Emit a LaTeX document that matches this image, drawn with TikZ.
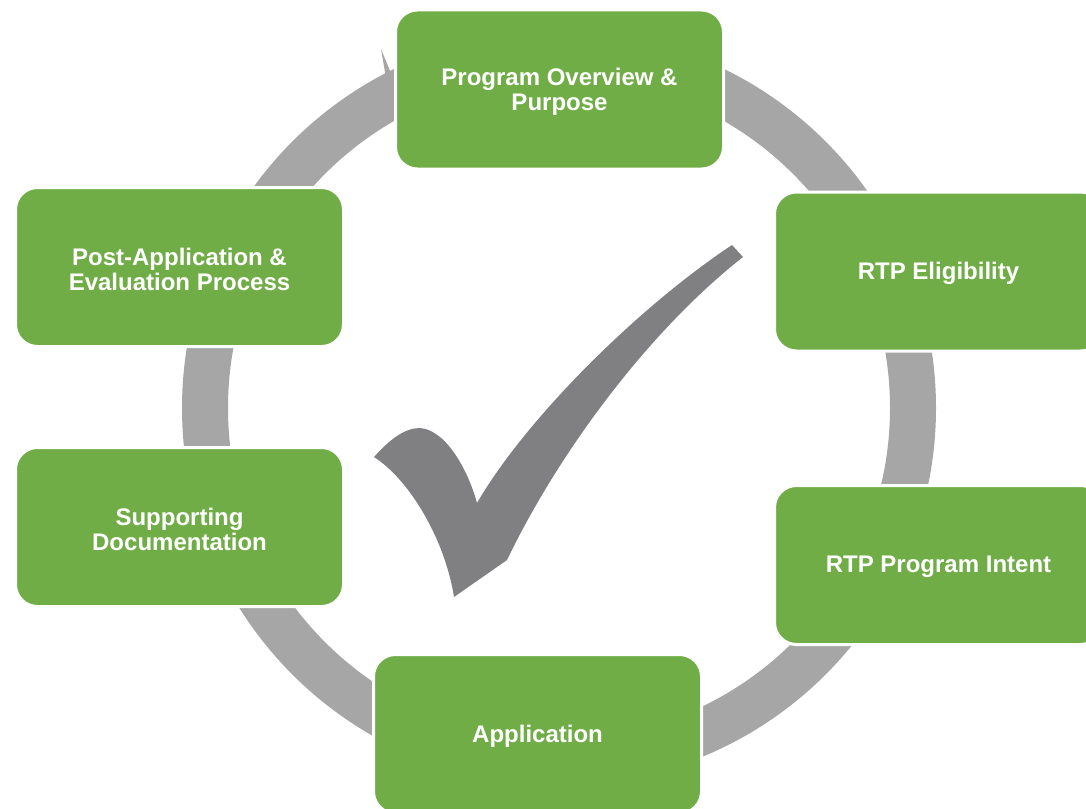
\documentclass[tikz,border=0pt]{standalone}
\usepackage{fontspec}
\setmainfont{Liberation Sans}
\definecolor{boxgreen}{HTML}{70AD47}
\definecolor{ringgray}{HTML}{A6A6A6}
\definecolor{checkgray}{HTML}{807F82}
\tikzset{
  stagebox/.style={rectangle, rounded corners=22pt, fill=boxgreen, draw=white,
    line width=3pt, minimum width=328pt, minimum height=159pt, inner sep=0pt},
  stagetext/.style={align=center, text=white, yshift=-2pt,
    font=\fontsize{24}{25}\selectfont\bfseries},
  ringstyle/.style={draw=ringgray, line width=46pt},
  checkstyle/.style={fill=checkgray, draw=none}
}
\begin{document}
\begin{tikzpicture}[x=1pt,y=-1pt]
\useasboundingbox (0,0) rectangle (1086,808);
\clip (0,0) rectangle (1086,808);
\coordinate (c) at (559,408);
% ring
\draw[ringstyle] (c) circle[radius=354];
% arrow barb
\fill[ringgray] (381,49) -- (400,95) -- (395,110) -- (386,88) -- (385,72) -- cycle;
% checkmark
\fill[checkstyle] (374,457) .. controls (390,439) and (405,428) .. (420,428)
  .. controls (446,430) and (468,470) .. (477,503)
  .. controls (527,417) and (640,306) .. (732,245)
  -- (743,257)
  .. controls (650,330) and (560,450) .. (507,560)
  -- (454,597)
  .. controls (445,540) and (410,480) .. cycle;
% boxes
\node[stagebox, label={[stagetext]center:{Program Overview \&\\Purpose}}] (overview) at (559.5,89.5) {};
\node[stagebox, label={[stagetext]center:{RTP Eligibility}}] (elig) at (938.5,271.5) {};
\node[stagebox, label={[stagetext]center:{RTP Program Intent}}] (intent) at (938.5,565) {};
\node[stagebox, label={[stagetext]center:{Application}}] (app) at (537.5,734) {};
\node[stagebox, label={[stagetext]center:{Supporting\\Documentation}}] (support) at (179.5,527) {};
\node[stagebox, label={[stagetext]center:{Post-Application \&\\Evaluation Process}}] (post) at (179.5,267) {};
\end{tikzpicture}
\end{document}
